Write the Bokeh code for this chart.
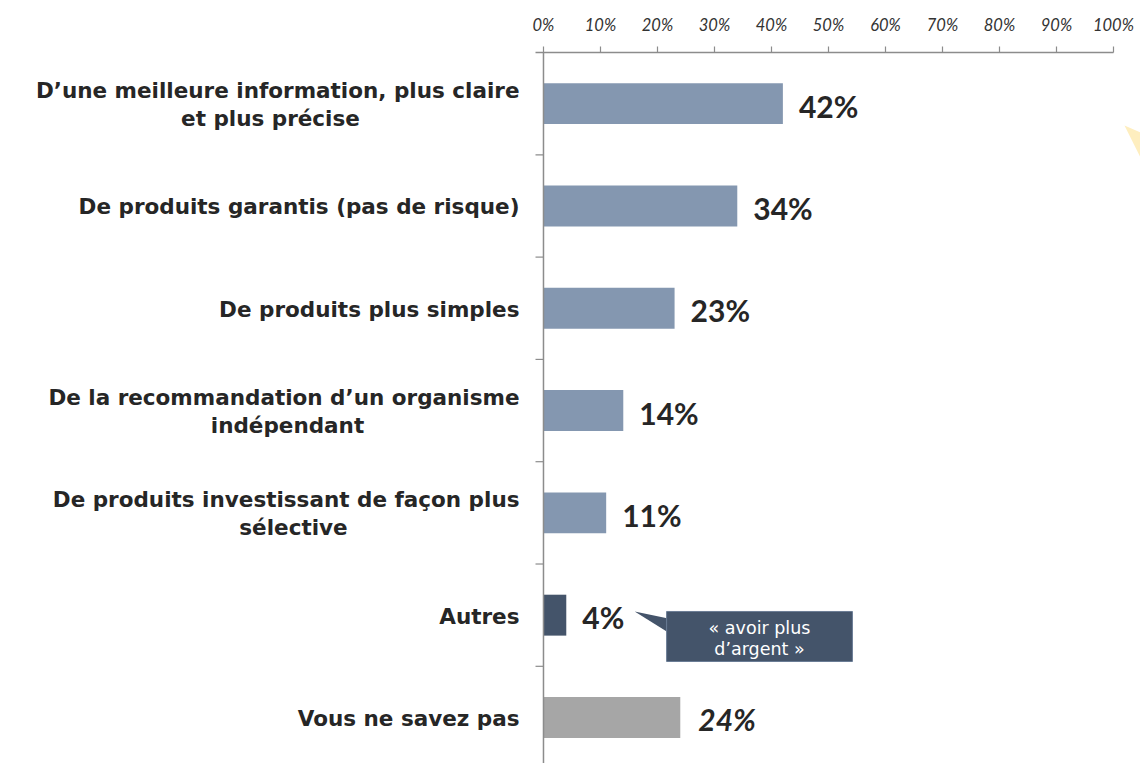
from bokeh.plotting import figure
from bokeh.models import Range1d, FixedTicker, ColumnDataSource, Span
from bokeh.core.properties import value
from bokeh.embed import file_html
from bokeh.resources import INLINE

# ---------------- data ----------------
categories = [
    "D’une meilleure information, plus claire\net plus précise",
    "De produits garantis (pas de risque)",
    "De produits plus simples",
    "De la recommandation d’un organisme\nindépendant",
    "De produits investissant de façon plus\nsélective",
    "Autres",
    "Vous ne savez pas",
]
values = [42, 34, 23, 14, 11, 4, 24]
value_labels = ["42%", "34%", "23%", "14%", "11%", "4%", "24%"]
tick_values = [0, 10, 20, 30, 40, 50, 60, 70, 80, 90, 100]
tick_labels = ["0%", "10%", "20%", "30%", "40%", "50%", "60%", "70%", "80%", "90%", "100%"]
callout_lines = ["« avoir plus", "d’argent »"]
callout_category = "Autres"

# ---------------- styles ----------------
bar_colors = ["#8497B0", "#8497B0", "#8497B0", "#8497B0", "#8497B0", "#44546A", "#A6A6A6"]
value_styles = ["bold", "bold", "bold", "bold", "bold", "bold", "bold italic"]
# second-line centre offsets (px from the axis) for two-line labels
line2_offsets = {0: -273, 3: -256, 4: -250}
AXIS_COLOR = "#8C8C8C"
TEXT_COLOR = "#262626"
LABEL_FONT = "DejaVu Sans"
NUM_FONT = "Lato"

n = len(categories)
y_pos = [i + 0.5 for i in range(n)]

p = figure(width=1140, height=763,
           x_range=Range1d(-95.26, 104.74), y_range=Range1d(6.95, 0),
           x_axis_location="above", y_axis_location=None,
           toolbar_location=None, output_backend="svg",
           min_border_left=0, min_border_right=0, min_border_bottom=0, min_border_top=52)
p.outline_line_color = None
p.xgrid.visible = False
p.ygrid.visible = False
p.background_fill_color = "white"

ax = p.xaxis[0]
ax.ticker = FixedTicker(ticks=tick_values)
ax.major_label_overrides = {t: l for t, l in zip(tick_values, tick_labels)}
ax.bounds = (-1.4, 100)
ax.axis_line_color = AXIS_COLOR
ax.axis_line_width = 1.5
ax.major_tick_line_color = AXIS_COLOR
ax.major_tick_line_width = 1.2
ax.major_tick_out = 6
ax.major_tick_in = 0
ax.minor_tick_line_color = None
ax.major_label_text_font = NUM_FONT
ax.major_label_text_font_style = "italic"
ax.major_label_text_font_size = "16.5px"
ax.major_label_text_color = "#333333"
ax.major_label_standoff = 12

# bars
src = ColumnDataSource(dict(y=y_pos, v=values, color=bar_colors))
p.hbar(y="y", left=0, right="v", height=0.4, fill_color="color", line_color=None, source=src)

# left axis line and category ticks
p.add_layout(Span(location=0, dimension="height", line_color=AXIS_COLOR, line_width=1.5))
p.segment(x0=[-1.4] * n, x1=[0] * n, y0=list(range(1, n + 1)), y1=list(range(1, n + 1)),
          line_color=AXIS_COLOR, line_width=1.2)

# value labels
for style, xo in (("bold", 16), ("bold italic", 18)):
    idx = [i for i in range(n) if value_styles[i] == style]
    if not idx:
        continue
    p.text(x=[values[i] for i in idx], y=[y_pos[i] for i in idx],
           text=[value_labels[i] for i in idx], x_offset=xo, y_offset=2,
           text_font=value(NUM_FONT), text_font_style=style, text_font_size="30px",
           text_color=TEXT_COLOR, text_baseline="middle", text_align="left")

# category labels
lx, ly, lt, loff, lyoff, lalign = [], [], [], [], [], []
for i, c in enumerate(categories):
    parts = c.split("\n")
    if len(parts) == 1:
        lt.append(parts[0]); ly.append(y_pos[i]); lyoff.append(1); loff.append(-24); lalign.append("right")
    else:
        lt.append(parts[0]); ly.append(y_pos[i]); lyoff.append(-13); loff.append(-24); lalign.append("right")
        lt.append(parts[1]); ly.append(y_pos[i]); lyoff.append(15); loff.append(line2_offsets[i]); lalign.append("center")
    lx.extend([0] * len(parts))
lab_src = ColumnDataSource(dict(x=lx, y=ly, t=lt, xo=loff, yo=lyoff, al=lalign))
p.text(x="x", y="y", text="t", x_offset="xo", y_offset="yo", text_align="al", source=lab_src,
       text_font=value(LABEL_FONT), text_font_style="bold", text_font_size="21.5px",
       text_color=TEXT_COLOR, text_baseline="middle")

# callout for "Autres"
ci = categories.index(callout_category)
cv, cy = values[ci], y_pos[ci]
left, right = cv + 17.6, cv + 50.2
top, bottom = cy - 0.036, cy + 0.453
p.patch(x=[cv + 12.0, left + 0.3, left + 0.3], y=[top, cy + 0.033, cy + 0.17],
        fill_color="#44546A", line_color=None)
p.quad(left=left, right=right, top=top, bottom=bottom, fill_color="#44546A",
       line_color="#6A7C95", line_width=1)
p.text(x=[(left + right) / 2] * 2, y=[cy + 0.121, cy + 0.326], text=callout_lines,
       text_font=value(LABEL_FONT), text_font_size="17.5px", text_color="white",
       text_align="center", text_baseline="middle")

# decorative pale-yellow triangle at the right edge
p.patch(x=[101.93, 104.74, 104.74], y=[0.714, 0.782, 1.026], fill_color="#FEEEBF", line_color=None)

open("out.html", "w").write(file_html(p, INLINE))
